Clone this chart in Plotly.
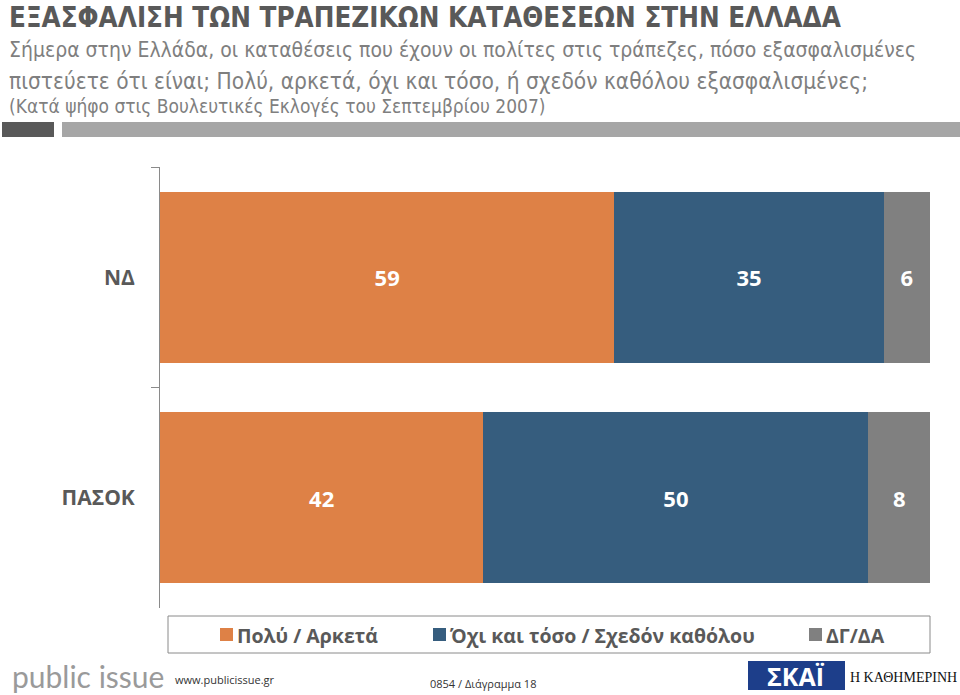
import plotly.graph_objects as go

# ---- data ----
parties = ["ΝΔ", "ΠΑΣΟΚ"]
series_names = ["Πολύ / Αρκετά", "Όχι και τόσο / Σχεδόν καθόλου", "ΔΓ/ΔΑ"]
very_quite = [59, 42]
not_much = [35, 50]
dk_na = [6, 8]
series_colors = ["#DE8146", "#365D7E", "#808080"]

title = "ΕΞΑΣΦΑΛΙΣΗ ΤΩΝ ΤΡΑΠΕΖΙΚΩΝ ΚΑΤΑΘΕΣΕΩΝ ΣΤΗΝ ΕΛΛΑΔΑ"
sub1 = "Σήμερα στην Ελλάδα, οι καταθέσεις που έχουν οι πολίτες στις τράπεζες, πόσο εξασφαλισμένες"
sub2 = "πιστεύετε ότι είναι; Πολύ, αρκετά, όχι και τόσο, ή σχεδόν καθόλου εξασφαλισμένες;"
sub3 = "(Κατά ψήφο στις Βουλευτικές Εκλογές του Σεπτεμβρίου 2007)"

W, H = 960, 695
def px(x): return x / W
def py(y): return 1 - y / H

COND = "Liberation Sans Narrow, DejaVu Sans Condensed, sans-serif"
LBL = "Open Sans, Liberation Sans, sans-serif"

fig = go.Figure()
for name, vals, col in zip(series_names, [very_quite, not_much, dk_na], series_colors):
    fig.add_trace(go.Bar(
        y=parties, x=vals, name=name, orientation="h",
        marker=dict(color=col, line=dict(width=0)),
        text=[str(v) for v in vals], textposition="inside",
        insidetextanchor="middle",
        textfont=dict(color="white", size=22, family=LBL, weight="bold"),
        showlegend=False, hoverinfo="skip",
    ))

fig.update_layout(
    width=W, height=H, barmode="stack", bargap=0.225,
    margin=dict(l=0, r=0, t=0, b=0),
    paper_bgcolor="white", plot_bgcolor="white",
    uniformtext=dict(minsize=10, mode="show"),
    xaxis=dict(domain=[px(160), px(930)], range=[0, 100], visible=False, fixedrange=True),
    yaxis=dict(domain=[py(608), py(167)], autorange="reversed", type="category",
               showline=True, linecolor="#8a8a8a", linewidth=1,
               ticks="outside", ticklen=8, tickcolor="#8a8a8a", tickson="boundaries",
               ticklabelstandoff=20,
               tickfont=dict(size=21, color="#595959", family=LBL, weight="bold"),
               showgrid=False, zeroline=False),
)

ann = []
def text(x, y, s, size, color, family=COND, anchor="left", bold=False, yanchor="middle"):
    ann.append(dict(x=px(x), y=py(y), xref="paper", yref="paper", text=s, showarrow=False,
                    xanchor=anchor, yanchor=yanchor,
                    font=dict(size=size, color=color, family=family, weight="bold" if bold else "normal")))

text(7, 17, title, 27.5, "#595959", bold=True)
text(7, 50, sub1, 21, "#7f7f7f")
text(7, 81, sub2, 22.5, "#7f7f7f")
text(7, 106, sub3, 19, "#7f7f7f")

shapes = [
    dict(type="rect", xref="paper", yref="paper", x0=px(2), x1=px(54), y0=py(137), y1=py(122),
         fillcolor="#595959", line=dict(width=0)),
    dict(type="rect", xref="paper", yref="paper", x0=px(62), x1=px(960), y0=py(137), y1=py(122),
         fillcolor="#a6a6a6", line=dict(width=0)),
    # legend box
    dict(type="rect", xref="paper", yref="paper", x0=px(168), x1=px(930), y0=py(653), y1=py(616),
         fillcolor="white", line=dict(color="#8a8a8a", width=1)),
    # SKAI logo box
    dict(type="rect", xref="paper", yref="paper", x0=px(748), x1=px(845), y0=py(690), y1=py(661),
         fillcolor="#1d3e8a", line=dict(width=0)),
]

leg_x = [220, 433, 809]
for lx, name, col in zip(leg_x, series_names, series_colors):
    shapes.append(dict(type="rect", xref="paper", yref="paper", x0=px(lx), x1=px(lx + 13),
                       y0=py(641), y1=py(628), fillcolor=col, line=dict(width=0)))
    text(lx + 15, 635, name, 19.5, "#595959", family=LBL, bold=True)

text(10, 676, "public issue", 30, "#9a9a9a", family="Lato, Noto Sans, sans-serif")
text(173, 679, "www.publicissue.gr", 11, "#333333", family=LBL)
text(483, 683, "0854 / Διάγραμμα 18", 11, "#333333", family=LBL, anchor="center")
text(796, 676, "ΣΚΑΪ", 25, "white", family=LBL, anchor="center", bold=True)
text(903, 677, "Η ΚΑΘΗΜΕΡΙΝΗ", 14, "#111111",
     family="Liberation Serif, DejaVu Serif, serif", anchor="center")

fig.update_layout(annotations=ann, shapes=shapes)
fig.write_html("out.html", config={"displayModeBar": False},
               post_script="document.body.style.margin='0';")
